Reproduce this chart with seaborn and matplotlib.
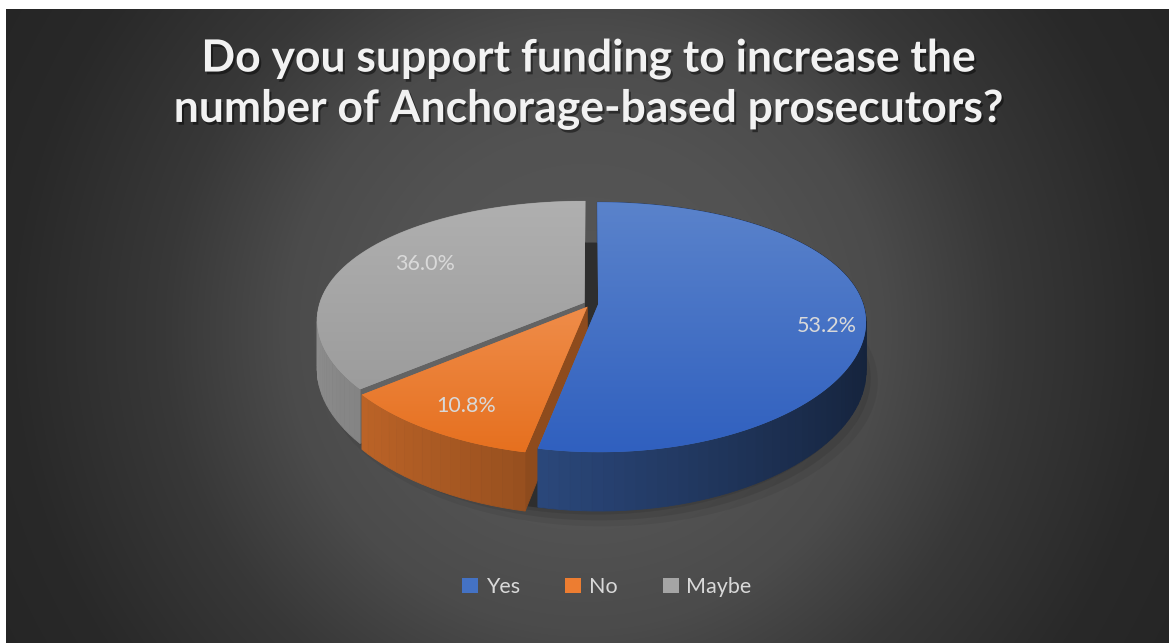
import numpy as np
import matplotlib
matplotlib.use("Agg")
import matplotlib.pyplot as plt
import matplotlib.patheffects as pe
from matplotlib.patches import Polygon, Patch
from matplotlib.colors import to_rgb
import seaborn as sns

# chart data
answers = ["Yes", "No", "Maybe"]
shares = [53.2, 10.8, 36.0]
value_labels = ["53.2%", "10.8%", "36.0%"]
title_text = "Do you support funding to increase the\nnumber of Anchorage-based prosecutors?"

# styling / layout
base_colors = sns.color_palette(["#4472C4", "#ED7D31", "#A5A5A5"])
front_colors = ["#3060BF", "#E6701F", "#9C9C9C"]   # lower end of the top-face gradient
label_radius = [0.86, 0.82, 0.72]
label_nudge_deg = [6, -1, 3]
W, H = 1169, 643
CX, CY = 591.0, 304.0          # pie centre in pixels
RX, RY, THICK = 265.0, 120.7, 48.0
PERSP_X, PERSP_Y = 0.14, 0.183
EXPLODE = 0.027


def project(u, v, h):
    """disk coords (u right, v towards viewer) + depth h (0 top .. 1 bottom) -> pixels"""
    sx = 1.0 / (1.0 - PERSP_X * v)
    sy = 1.0 / (1.0 - PERSP_Y * v)
    return CX + RX * u * sx, CY + (RY * v + THICK * h) * sy


def disk(theta, r, shift):
    t = np.radians(theta)
    return r * np.sin(t) + shift[0], -r * np.cos(t) + shift[1]


def shade(color, f):
    c = np.array(to_rgb(color))
    return tuple(np.clip(c * f, 0, 1))


def mix(color, other, f):
    a, b = np.array(to_rgb(color)), np.array(to_rgb(other))
    return tuple(a * (1 - f) + b * f)


def main():
    sns.set_style("dark")
    plt.rcParams["font.family"] = ["Lato", "DejaVu Sans"]

    fig = plt.figure(figsize=(W / 100, H / 100), dpi=100, facecolor="white")

    # radial dark background
    bg = fig.add_axes([6 / W, 0, (W - 6) / W, (H - 9) / H])
    yy, xx = np.mgrid[9:H, 6:W]
    r = np.hypot(xx - 585, yy - 330)
    val = np.interp(r, [0, 200, 300, 420, 570, 700], [88, 82, 75, 56, 41, 36]) / 255
    bg.imshow(np.dstack([val, val, val]), aspect="auto", interpolation="bilinear")
    bg.set_axis_off()

    ax = fig.add_axes([0, 0, 1, 1])
    ax.set_xlim(0, W)
    ax.set_ylim(H, 0)
    ax.set_axis_off()
    ax.patch.set_alpha(0)

    fracs = np.array(shares) / sum(shares)
    bounds = np.concatenate([[0], np.cumsum(fracs) * 360])

    # soft shadow + dark core seen through the gaps
    full = np.linspace(0, 360, 200)
    for k, a in enumerate([0.10, 0.08, 0.06]):
        u, v = disk(full, 1.0 + 0.015 * k, (0, 0))
        px, py = project(u, v, 1.0)
        ax.add_patch(Polygon(np.column_stack([px + 5 + 3 * k, py + 4 + 3 * k]),
                             closed=True, fc="black", ec="none", alpha=a, zorder=1))
    u, v = disk(full, 1.0, (0, 0))
    px, py = project(u, v, 1.0)
    ax.add_patch(Polygon(np.column_stack([px, py]), closed=True, fc="#2e2e2e", ec="none", zorder=2))

    faces = []
    tops = []
    for i, col in enumerate(base_colors):
        a0, a1 = bounds[i], bounds[i + 1]
        mid = (a0 + a1) / 2
        shift = (EXPLODE * np.sin(np.radians(mid)), -EXPLODE * np.cos(np.radians(mid)))
        cu, cv = shift

        # outer wall segments
        angles = np.linspace(a0, a1, max(int((a1 - a0) / 2), 4))
        for t0, t1 in zip(angles[:-1], angles[1:]):
            u0, v0 = disk(t0, 1, shift)
            u1, v1 = disk(t1, 1, shift)
            pts = [project(u0, v0, 0), project(u1, v1, 0), project(u1, v1, 1), project(u0, v0, 1)]
            um = (u0 + u1) / 2
            faces.append(((v0 + v1) / 2, pts, shade(col, 0.58 - 0.27 * um)))

        # radial cut faces (only the ones facing the viewer)
        for ang, sign in [(a0, -1), (a1, 1)]:
            nv = -np.cos(np.radians(ang + sign * 90))
            if nv <= 0.01:
                continue
            ru, rv = disk(ang, 1, shift)
            pts = [project(cu, cv, 0), project(ru, rv, 0), project(ru, rv, 1), project(cu, cv, 1)]
            faces.append(((cv + rv) / 2, pts, shade(col, 0.6)))

        # top face
        arc = np.linspace(a0, a1, 120)
        u, v = disk(arc, 1, shift)
        px, py = project(u, v, 0)
        cx0, cy0 = project(cu, cv, 0)
        poly = np.vstack([[cx0, cy0], np.column_stack([px, py])])
        tops.append((poly, col, front_colors[i]))

        # value label
        lu, lv = disk(mid + label_nudge_deg[i], label_radius[i], shift)
        lx, ly = project(lu, lv, 0)
        ax.text(lx, ly, value_labels[i], ha="center", va="center", fontsize=15.5,
                color="#d9d9d9", zorder=20)

    faces.sort(key=lambda f: f[0])
    for z, (depth, pts, fc) in enumerate(faces):
        ax.add_patch(Polygon(pts, closed=True, fc=fc, ec=fc, lw=0.6, zorder=3 + z * 0.001))

    for poly, col, front in tops:
        patch = Polygon(poly, closed=True, fc=col, ec="none", zorder=10)
        ax.add_patch(patch)
        y0, y1 = poly[:, 1].min(), poly[:, 1].max()
        top_c, bot_c = mix(col, "white", 0.12), to_rgb(front)
        grad = np.linspace(0, 1, 256)[:, None, None]
        img = np.array(top_c)[None, None, :] * (1 - grad) + np.array(bot_c)[None, None, :] * grad
        im = ax.imshow(img, extent=(poly[:, 0].min(), poly[:, 0].max(), y1, y0),
                       aspect="auto", interpolation="bilinear", zorder=11)
        im.set_clip_path(patch)
    ax.set_xlim(0, W)
    ax.set_ylim(H, 0)

    # title
    ax.text(589, 84, title_text, ha="center", va="center", fontsize=32, fontweight="bold",
            color="#f2f2f2", linespacing=1.3, zorder=30,
            path_effects=[pe.withSimplePatchShadow(offset=(1.5, -2), shadow_rgbFace="black", alpha=0.45)])

    # legend
    handles = [Patch(facecolor=c, edgecolor="none", label=n) for n, c in zip(answers, base_colors)]
    fig.legend(handles=handles, loc="center", bbox_to_anchor=(607 / W, 1 - 587 / H), ncol=3,
               frameon=False, fontsize=15.5, labelcolor="#d9d9d9", handlelength=0.75,
               handleheight=0.75, handletextpad=0.35, columnspacing=2.1)

    fig.savefig("out.png", dpi=100, facecolor="white")
    plt.close(fig)


if __name__ == "__main__":
    main()
